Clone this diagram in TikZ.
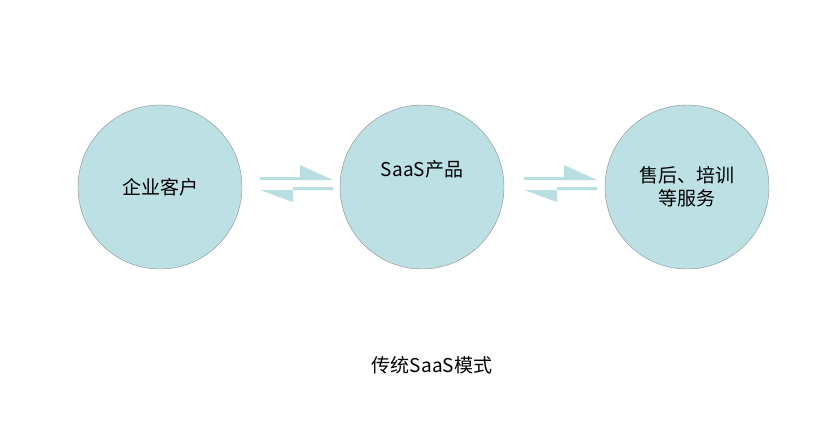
\documentclass[tikz,border=0pt]{standalone}
\usepackage{fontspec}
\setmainfont{Noto Sans CJK SC}
\begin{document}
\begin{tikzpicture}[x=1pt,y=-1pt,
  circ/.style={circle,draw=black!45,fill=cyan!40!gray!30!white,fill=circfill,minimum size=164pt,inner sep=0pt,align=center,font=\fontsize{19pt}{23pt}\selectfont},
  harp/.style={fill=harpc,draw=none}]
\definecolor{circfill}{HTML}{BCE0E4}
\definecolor{harpc}{HTML}{B8DEE2}
\useasboundingbox (0,0) rectangle (822,428);
\node[circ] (a) at (160,187) {企业客户};
\node[circ] (b) at (422,187) {SaaS产品\\[14pt]\mbox{}};
\node[circ] (c) at (687,187) {售后、培训\\等服务};
\foreach \o in {0,264}{
 \fill[harpc] (260+\o,177) -- (300+\o,177) -- (300+\o,165) -- (333+\o,180) -- (260+\o,180) -- cycle;
 \fill[harpc] (333+\o,187) -- (293+\o,187) -- (293+\o,202) -- (260+\o,190) -- (333+\o,190) -- cycle;
}
\node[font=\fontsize{19pt}{23pt}\selectfont] (t) at (432,365) {传统SaaS模式};
\end{tikzpicture}
\end{document}
